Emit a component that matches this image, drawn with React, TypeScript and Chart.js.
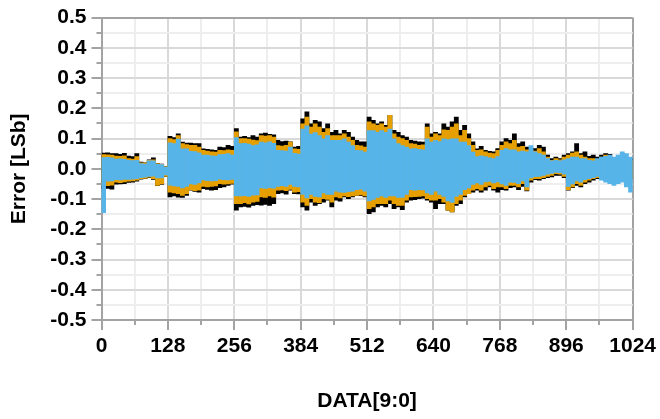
import React, { useEffect, useRef } from "react";
import { Chart, registerables } from "chart.js";

Chart.register(...registerables);

// Codes are grouped in bins of 8 (DATA[9:0] = 0 .. 1023); each bin shows the
// min/max error envelope of each series.
const BIN_SIZE = 8;
const BIN_CENTERS: number[] = Array.from({ length: 128 }, (_, i) => i * BIN_SIZE + BIN_SIZE / 2);

const xTickLabels = ["0", "128", "256", "384", "512", "640", "768", "896", "1024"];

const blueHigh = [
  0.037, 0.038, 0.036, 0.032, 0.033, 0.031, 0.028, 0.027, 0.028, 0.017, 0.016, 0.026, 0.026, 0.015, 0.014, 0.006,
  0.086, 0.083, 0.098, 0.066, 0.066, 0.058, 0.057, 0.053, 0.045, 0.045, 0.043, 0.042, 0.047, 0.048, 0.050, 0.045,
  0.103, 0.083, 0.084, 0.082, 0.077, 0.079, 0.088, 0.086, 0.089, 0.084, 0.061, 0.060, 0.059, 0.072, 0.051, 0.049,
  0.131, 0.142, 0.115, 0.120, 0.110, 0.099, 0.110, 0.094, 0.094, 0.094, 0.099, 0.088, 0.077, 0.061, 0.060, 0.055,
  0.126, 0.126, 0.121, 0.126, 0.121, 0.131, 0.099, 0.083, 0.077, 0.072, 0.066, 0.067, 0.064, 0.063, 0.099, 0.088,
  0.094, 0.090, 0.099, 0.097, 0.099, 0.099, 0.088, 0.088, 0.077, 0.055, 0.040, 0.043, 0.040, 0.036, 0.034, 0.040,
  0.061, 0.067, 0.063, 0.063, 0.056, 0.059, 0.056, 0.077, 0.056, 0.050, 0.045, 0.034, 0.026, 0.028, 0.026, 0.030,
  0.034, 0.039, 0.039, 0.034, 0.034, 0.028, 0.026, 0.034, 0.039, 0.041, 0.045, 0.039, 0.045, 0.056, 0.050, 0.039,
];
const blueLow = [
  -0.145, -0.041, -0.040, -0.036, -0.037, -0.035, -0.035, -0.034, -0.033, -0.029, -0.028, -0.025, -0.024, -0.030, -0.030, -0.020,
  -0.054, -0.057, -0.058, -0.063, -0.058, -0.050, -0.052, -0.047, -0.037, -0.039, -0.040, -0.039, -0.034, -0.036, -0.037, -0.035,
  -0.090, -0.090, -0.089, -0.091, -0.087, -0.086, -0.063, -0.065, -0.062, -0.064, -0.058, -0.056, -0.058, -0.052, -0.058, -0.060,
  -0.085, -0.096, -0.085, -0.091, -0.093, -0.080, -0.085, -0.085, -0.074, -0.077, -0.078, -0.076, -0.074, -0.069, -0.067, -0.074,
  -0.106, -0.101, -0.095, -0.090, -0.095, -0.090, -0.090, -0.095, -0.095, -0.085, -0.069, -0.071, -0.069, -0.070, -0.080, -0.085,
  -0.074, -0.085, -0.091, -0.106, -0.111, -0.091, -0.085, -0.069, -0.063, -0.052, -0.047, -0.052, -0.043, -0.042, -0.047, -0.043,
  -0.050, -0.055, -0.044, -0.045, -0.049, -0.040, -0.060, -0.030, -0.026, -0.025, -0.022, -0.018, -0.015, -0.012, -0.013, -0.018,
  -0.058, -0.050, -0.040, -0.044, -0.036, -0.033, -0.029, -0.025, -0.038, -0.044, -0.049, -0.055, -0.049, -0.044, -0.060, -0.077,
];
const orangeHigh = [
  0.047, 0.046, 0.045, 0.042, 0.041, 0.043, 0.034, 0.032, 0.040, 0.020, 0.019, 0.028, 0.030, 0.017, 0.015, 0.007,
  0.100, 0.097, 0.110, 0.083, 0.080, 0.078, 0.078, 0.072, 0.061, 0.059, 0.056, 0.055, 0.061, 0.060, 0.063, 0.061,
  0.122, 0.100, 0.100, 0.098, 0.095, 0.093, 0.110, 0.108, 0.110, 0.105, 0.077, 0.075, 0.078, 0.088, 0.066, 0.064,
  0.149, 0.171, 0.138, 0.149, 0.138, 0.121, 0.133, 0.110, 0.110, 0.110, 0.116, 0.105, 0.094, 0.078, 0.076, 0.072,
  0.155, 0.149, 0.144, 0.149, 0.138, 0.177, 0.116, 0.105, 0.100, 0.094, 0.083, 0.082, 0.078, 0.079, 0.138, 0.105,
  0.116, 0.110, 0.129, 0.127, 0.138, 0.149, 0.110, 0.127, 0.100, 0.078, 0.061, 0.063, 0.056, 0.052, 0.050, 0.061,
  0.078, 0.089, 0.083, 0.094, 0.072, 0.074, 0.063, 0.061, 0.059, 0.067, 0.056, 0.039, 0.028, 0.034, 0.030, 0.039,
  0.045, 0.052, 0.056, 0.045, 0.039, 0.034, 0.034, 0.030, 0.039, 0.045, 0.040, 0.030, 0.030, 0.031, 0.030, 0.028,
];
const orangeLow = [
  -0.055, -0.056, -0.054, -0.044, -0.046, -0.043, -0.041, -0.040, -0.038, -0.033, -0.032, -0.028, -0.033, -0.055, -0.050, -0.025,
  -0.077, -0.080, -0.082, -0.088, -0.082, -0.070, -0.072, -0.071, -0.058, -0.060, -0.058, -0.057, -0.049, -0.051, -0.050, -0.048,
  -0.115, -0.115, -0.112, -0.116, -0.110, -0.108, -0.093, -0.095, -0.090, -0.094, -0.071, -0.070, -0.072, -0.068, -0.077, -0.076,
  -0.110, -0.121, -0.099, -0.110, -0.112, -0.099, -0.101, -0.110, -0.093, -0.096, -0.090, -0.092, -0.090, -0.088, -0.086, -0.090,
  -0.132, -0.126, -0.115, -0.115, -0.115, -0.104, -0.115, -0.121, -0.121, -0.104, -0.093, -0.092, -0.091, -0.090, -0.099, -0.104,
  -0.104, -0.099, -0.110, -0.137, -0.143, -0.115, -0.104, -0.088, -0.082, -0.071, -0.066, -0.071, -0.060, -0.055, -0.066, -0.060,
  -0.060, -0.066, -0.055, -0.055, -0.060, -0.049, -0.071, -0.038, -0.033, -0.033, -0.029, -0.025, -0.022, -0.016, -0.018, -0.025,
  -0.069, -0.060, -0.049, -0.055, -0.044, -0.038, -0.033, -0.029, -0.033, -0.036, -0.040, -0.035, -0.035, -0.034, -0.033, -0.032,
];
const blackHigh = [
  0.052, 0.053, 0.050, 0.050, 0.048, 0.051, 0.042, 0.040, 0.050, 0.022, 0.020, 0.030, 0.036, 0.018, 0.016, 0.008,
  0.107, 0.103, 0.116, 0.088, 0.085, 0.085, 0.083, 0.083, 0.066, 0.064, 0.063, 0.061, 0.072, 0.070, 0.078, 0.074,
  0.133, 0.105, 0.107, 0.103, 0.110, 0.105, 0.116, 0.118, 0.114, 0.112, 0.094, 0.090, 0.092, 0.089, 0.072, 0.074,
  0.165, 0.188, 0.149, 0.160, 0.155, 0.133, 0.149, 0.121, 0.127, 0.116, 0.127, 0.121, 0.105, 0.094, 0.089, 0.089,
  0.171, 0.160, 0.149, 0.155, 0.144, 0.177, 0.127, 0.121, 0.110, 0.105, 0.094, 0.092, 0.089, 0.088, 0.149, 0.116,
  0.121, 0.116, 0.149, 0.138, 0.155, 0.171, 0.127, 0.144, 0.116, 0.089, 0.066, 0.074, 0.061, 0.058, 0.056, 0.067,
  0.089, 0.100, 0.094, 0.116, 0.083, 0.089, 0.072, 0.067, 0.067, 0.078, 0.072, 0.045, 0.034, 0.039, 0.034, 0.045,
  0.050, 0.056, 0.083, 0.050, 0.056, 0.041, 0.045, 0.039, 0.045, 0.050, 0.048, 0.035, 0.035, 0.036, 0.034, 0.033,
];
const blackLow = [
  -0.066, -0.065, -0.067, -0.051, -0.050, -0.049, -0.045, -0.044, -0.041, -0.034, -0.033, -0.029, -0.035, -0.056, -0.052, -0.026,
  -0.093, -0.090, -0.094, -0.095, -0.088, -0.071, -0.075, -0.077, -0.066, -0.068, -0.071, -0.069, -0.062, -0.060, -0.055, -0.051,
  -0.137, -0.126, -0.124, -0.127, -0.121, -0.119, -0.120, -0.118, -0.121, -0.115, -0.082, -0.080, -0.084, -0.071, -0.082, -0.083,
  -0.126, -0.137, -0.110, -0.121, -0.115, -0.110, -0.104, -0.126, -0.104, -0.107, -0.093, -0.099, -0.093, -0.088, -0.089, -0.093,
  -0.148, -0.143, -0.126, -0.121, -0.126, -0.115, -0.132, -0.126, -0.135, -0.110, -0.104, -0.102, -0.099, -0.097, -0.104, -0.110,
  -0.132, -0.115, -0.115, -0.137, -0.143, -0.121, -0.115, -0.093, -0.082, -0.077, -0.071, -0.077, -0.071, -0.060, -0.071, -0.077,
  -0.069, -0.071, -0.062, -0.060, -0.069, -0.058, -0.073, -0.044, -0.036, -0.038, -0.033, -0.029, -0.027, -0.022, -0.022, -0.029,
  -0.071, -0.062, -0.055, -0.060, -0.049, -0.044, -0.038, -0.033, -0.033, -0.036, -0.040, -0.035, -0.035, -0.034, -0.033, -0.032,
];

const BORDER = "#a3a3a3";
const MAJOR = "#d9d9d9";
const MINOR = "#eeeeee";
const FONT = { family: '"Liberation Sans", Arial, sans-serif', weight: "bold" as const, size: 21 };

const isMajorX = (v: number) => xTickLabels.includes(String(Math.round(v)));
const isMajorY = (v: number) => Math.round(v * 100) % 10 === 0;

const minorTicks = {
  id: "minorTicks",
  afterDraw(chart: any) {
    const { ctx, chartArea } = chart;
    const x = chart.scales.x;
    const y = chart.scales.y;
    ctx.save();
    ctx.strokeStyle = BORDER;
    ctx.lineWidth = 2;
    ctx.beginPath();
    y.ticks.forEach((t: any) => {
      if (!isMajorY(t.value)) {
        const py = Math.round(y.getPixelForValue(t.value));
        ctx.moveTo(chartArea.left - 5, py);
        ctx.lineTo(chartArea.left, py);
      }
    });
    x.ticks.forEach((t: any) => {
      if (!isMajorX(t.value)) {
        const px = Math.round(x.getPixelForValue(t.value));
        ctx.moveTo(px, chartArea.bottom);
        ctx.lineTo(px, chartArea.bottom + 5);
      }
    });
    ctx.stroke();
    ctx.restore();
  },
};

function envelope(lo: number[], hi: number[]) {
  return BIN_CENTERS.map((c, i) => ({ x: c, y: [lo[i], hi[i]] }));
}

export default function App() {
  const ref = useRef<HTMLCanvasElement | null>(null);

  useEffect(() => {
    if (!ref.current) return;
    const common = {
      barPercentage: 1,
      categoryPercentage: 1,
      borderWidth: 0,
      grouped: false,
    };
    const chart = new Chart(ref.current, {
      type: "bar",
      data: {
        datasets: [
          { ...common, label: "blue", data: envelope(blueLow, blueHigh) as any, backgroundColor: "#56B4E9", order: 0 },
          { ...common, label: "orange", data: envelope(orangeLow, orangeHigh) as any, backgroundColor: "#E69F00", order: 1 },
          { ...common, label: "black", data: envelope(blackLow, blackHigh) as any, backgroundColor: "#000000", order: 2 },
        ],
      },
      options: {
        animation: false,
        responsive: true,
        maintainAspectRatio: false,
        layout: { padding: { left: 7, right: 23, top: 17, bottom: 5 } },
        plugins: { legend: { display: false }, tooltip: { enabled: false } },
        scales: {
          x: {
            type: "linear",
            min: 0,
            max: 1024,
            offset: false,
            ticks: {
              stepSize: 64,
              autoSkip: false,
              maxRotation: 0,
              padding: 4,
              color: "#000",
              font: FONT,
              callback: (v: any) => (isMajorX(Number(v)) ? String(Math.round(Number(v))) : ""),
            },
            grid: {
              offset: false,
              lineWidth: 2,
              color: (c: any) => (c.tick.value === 1024 ? BORDER : isMajorX(c.tick.value) ? MAJOR : MINOR),
              tickLength: 10,
              tickWidth: 2,
              tickColor: (c: any) => (isMajorX(c.tick.value) ? BORDER : "rgba(0,0,0,0)"),
            },
            border: { color: BORDER, width: 2 },
            title: { display: true, text: "DATA[9:0]", color: "#000", font: FONT, padding: 0 },
            afterFit: (s: any) => {
              s.height = 94;
            },
          },
          y: {
            min: -0.5,
            max: 0.5,
            ticks: {
              stepSize: 0.05,
              autoSkip: false,
              padding: 5,
              color: "#000",
              font: FONT,
              callback: (v: any) => {
                const r = Math.round(Number(v) * 100);
                return r % 10 === 0 ? (r / 100).toFixed(1) : "";
              },
            },
            grid: {
              lineWidth: 2,
              color: (c: any) => (Math.round(c.tick.value * 100) === 50 ? BORDER : isMajorY(c.tick.value) ? MAJOR : MINOR),
              tickLength: 10,
              tickWidth: 2,
              tickColor: (c: any) => (isMajorY(c.tick.value) ? BORDER : "rgba(0,0,0,0)"),
            },
            border: { color: BORDER, width: 2 },
            title: { display: true, text: "Error [LSb]", color: "#000", font: FONT, padding: 0 },
            afterFit: (s: any) => {
              s.width = 94.5;
            },
          },
        },
      },
      plugins: [minorTicks],
    });
    return () => chart.destroy();
  }, []);

  return (
    <div style={{ position: "fixed", left: 0, top: 0, width: 660, height: 419, background: "#fff" }}>
      <canvas ref={ref} />
    </div>
  );
}
